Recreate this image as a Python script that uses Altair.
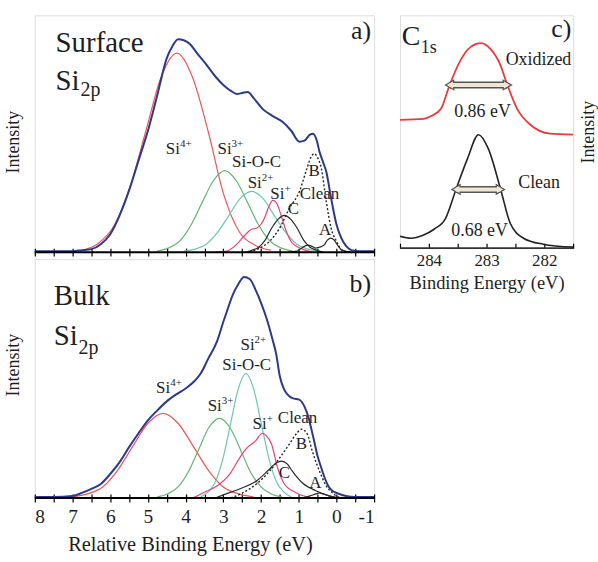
import altair as alt
import pandas as pd

FONT = "Liberation Serif"
INK = "#1e1e1e"

# ---------------- Panel a : Surface Si2p (E in eV, intensity arb.) ----------------
a_env_E = [8.0, 7.5, 7.0, 6.75, 6.5, 6.25, 6.0, 5.75, 5.5, 5.25, 5.0, 4.75, 4.5, 4.35, 4.2, 4.05,
           3.88, 3.7, 3.44, 3.2, 3.0, 2.8, 2.64, 2.5, 2.35, 2.2, 1.96, 1.7, 1.43, 1.2, 0.98, 0.85,
           0.7, 0.62, 0.52, 0.45, 0.35, 0.27, 0.14, 0.0, -0.13, -0.26, -0.4, -0.6, -1.0]
a_env_I = [1, 1, 1, 2, 3, 8, 18, 37, 62, 92, 122, 158, 195, 207, 214, 213,
           209, 200, 188, 176, 168, 162, 159, 160, 161, 155, 144, 137, 131, 122, 111, 112,
           118, 119, 112, 101, 90, 81, 54, 28, 14, 6, 2, 1, 1]

a_si4_E = [6.72, 6.31, 5.89, 5.48, 5.06, 4.65, 4.23, 3.82, 3.40, 2.99, 2.57, 2.16, 1.74]
a_si4_I = [2, 9, 27, 65, 121, 176, 200, 176, 121, 58, 20, 7, 2]
a_si3_E = [4.76, 4.46, 4.16, 3.86, 3.56, 3.26, 2.96, 2.66, 2.36, 2.06, 1.76, 1.46, 1.16]
a_si3_I = [1, 4, 11, 27, 50, 72, 82, 72, 50, 27, 11, 4, 1]
a_sioc_E = [4.05, 3.75, 3.45, 3.15, 2.85, 2.55, 2.25, 1.95, 1.65, 1.35, 1.05, 0.75, 0.45]
a_sioc_I = [1, 3, 8, 20, 37, 54, 61, 54, 37, 20, 8, 3, 1]
a_si1_E = [3.2, 2.91, 2.64, 2.38, 2.25, 2.12, 2.0, 1.9, 1.8, 1.69, 1.6, 1.51, 1.42, 1.33, 1.17, 0.9, 0.64]
a_si1_I = [0, 1, 8, 19, 23, 24, 28, 35, 45, 52, 50, 42, 31, 21, 9, 3, 0]
a_c_E = [2.40, 2.23, 2.06, 1.89, 1.72, 1.55, 1.38, 1.21, 1.04, 0.87, 0.70, 0.53, 0.36]
a_c_I = [0, 2, 5, 12, 24, 33, 37, 33, 24, 12, 5, 2, 0]
a_a_E = [1.3, 1.05, 0.93, 0.84, 0.75, 0.66, 0.55, 0.45, 0.33, 0.24, 0.15, 0.06, -0.03, -0.15, -0.4]
a_a_I = [0, 1, 4, 6, 7, 6, 4, 5, 7, 12, 14, 12, 7, 2, 0]
a_b_E = [2.3, 2.04, 1.77, 1.51, 1.25, 0.98, 0.80, 0.68, 0.59, 0.50, 0.40, 0.27, 0.14, 0.0, -0.15, -0.35]
a_b_I = [0, 4, 11, 24, 44, 61, 82, 95, 99, 95, 84, 51, 24, 11, 2, 0]

a_si_lbl_E = [4.15, 2.78, 1.98, 1.38]
a_si_lbl_I = [104, 104, 69, 58]
a_si_sup = ["4+", "3+", "2+", "+"]
a_txt = ["Si-O-C", "Clean", "B", "C", "A"]
a_txt_E = [2.12, 0.45, 0.59, 1.14, 0.30]
a_txt_I = [91, 58, 82, 43, 22]

# ---------------- Panel b : Bulk Si2p ----------------
b_env_E = [8.0, 7.5, 7.0, 6.75, 6.5, 6.25, 6.0, 5.75, 5.5, 5.25, 5.0, 4.75, 4.5, 4.25, 4.0, 3.75,
           3.6, 3.4, 3.17, 3.0, 2.9, 2.75, 2.6, 2.45, 2.3, 2.12, 2.0, 1.85, 1.7, 1.6, 1.5, 1.4,
           1.3, 1.15, 1.0, 0.85, 0.75, 0.67, 0.59, 0.5, 0.4, 0.3, 0.2, 0.1, 0.0, -0.25, -0.5, -1.0]
b_env_I = [1, 1, 2, 5, 9, 14, 24, 36, 51, 65, 78, 88, 97, 104, 110, 118,
           125, 140, 157, 177, 188, 204, 215, 222, 220, 207, 196, 180, 160, 145, 122, 110,
           104, 100, 99, 92, 82, 70, 57, 42, 30, 19, 11, 7, 5, 2, 1, 1]

b_si4_E = [7.0, 6.6, 6.2, 5.8, 5.4, 5.0, 4.6, 4.2, 3.8, 3.4, 3.0, 2.6, 2.2]
b_si4_I = [1, 4, 11, 28, 52, 75, 85, 75, 52, 28, 11, 4, 1]
b_si3_E = [4.75, 4.48, 4.20, 3.93, 3.65, 3.38, 3.10, 2.83, 2.55, 2.28, 2.00, 1.73, 1.45]
b_si3_I = [1, 4, 11, 26, 49, 71, 80, 71, 49, 26, 11, 4, 1]
b_sioc_E = [3.60, 3.40, 3.20, 3.00, 2.80, 2.60, 2.40, 2.20, 2.00, 1.80, 1.60, 1.40, 1.20]
b_sioc_I = [1, 6, 17, 41, 76, 110, 125, 110, 76, 41, 17, 6, 1]
b_si1_E = [3.8, 3.54, 3.17, 2.83, 2.57, 2.38, 2.15, 1.96, 1.85, 1.72, 1.56, 1.38, 1.06, 0.64]
b_si1_I = [0, 5, 12, 24, 40, 50, 57, 65, 62, 54, 30, 14, 5, 0]
b_c_E = [3.2, 3.0, 2.57, 2.12, 1.8, 1.6, 1.46, 1.3, 1.17, 0.9, 0.53, 0.19, -0.1]
b_c_I = [0, 3, 9, 17, 28, 35, 37, 34, 27, 15, 7, 2, 0]
b_a_E = [0.9, 0.7, 0.55, 0.45, 0.35, 0.2, 0.0]
b_a_I = [0, 2, 4, 5, 4, 2, 0]
b_b_E = [2.8, 2.49, 2.12, 1.77, 1.51, 1.25, 1.05, 0.93, 0.77, 0.64, 0.45, 0.27, 0.1, -0.05, -0.3]
b_b_I = [0, 5, 14, 27, 40, 54, 65, 69, 64, 47, 27, 12, 5, 1, 0]

b_si_lbl_E = [4.41, 3.04, 2.17, 1.85]
b_si_lbl_I = [110, 92, 154, 74]
b_si_sup = ["4+", "3+", "2+", "+"]
b_txt = ["Si-O-C", "Clean", "B", "C", "A"]
b_txt_E = [2.38, 1.03, 0.93, 1.38, 0.56]
b_txt_I = [134, 80, 54, 25, 15]

# ---------------- Panel c : C1s ----------------
c_ox_E = [284.5, 284.09, 283.95, 283.79, 283.64, 283.45, 283.28, 283.1, 282.93, 282.76, 282.64,
          282.47, 282.24, 281.9, 281.5]
c_ox_I = [129, 130, 133, 140, 164, 189, 202, 206, 200, 184, 164, 140, 124, 115, 114]
c_cl_E = [284.5, 284.31, 284.1, 283.91, 283.71, 283.53, 283.33, 283.14, 282.97, 282.76, 282.59,
          282.36, 282.02, 281.5]
c_cl_I = [12, 10, 13, 19, 30, 59, 90, 114, 100, 60, 25, 10, 4, 1]
c_fwhm_E1 = [283.64, 283.53]
c_fwhm_E2 = [282.64, 282.76]
c_fwhm_I = [164, 59]
c_txt = ["Oxidized", "0.86 eV", "Clean", "0.68 eV"]
c_txt_E = [282.10, 283.07, 282.09, 283.12]
c_txt_I = [189, 137, 65, 17]

SI_TICKS = [8, 7.5, 7, 6.5, 6, 5.5, 5, 4.5, 4, 3.5, 3, 2.5, 2, 1.5, 1, 0.5, 0, -0.5, -1]
C_TICKS = [284.5, 284, 283.5, 283, 282.5, 282, 281.5]

COMP_NAMES = ["Si4+", "Si3+", "SiOC", "Si+", "C", "A"]
COMP_COLORS = ["#ec5558", "#63b36e", "#6cc7ad", "#e8407a", "#2a2a2a", "#2a2a2a"]

INT_LABEL = "datum.value % 1 == 0 ? '' + datum.value : ''"


def long(curves):
    rows = []
    for name, (E, I) in curves.items():
        for k, (e, v) in enumerate(zip(E, I)):
            rows.append({"curve": name, "E": e, "I": v, "k": k})
    return pd.DataFrame(rows)


def si_panel(env, comps, dotted, si_lbl, plain, heads, height, bottom, title_y):
    xaxis = alt.Axis(values=SI_TICKS, domain=False, grid=False, tickSize=8, offset=-4,
                     tickColor="black", tickWidth=1.2,
                     labels=bottom, labelExpr=INT_LABEL, labelOverlap=False,
                     labelFont=FONT, labelFontSize=19.5, labelColor=INK, labelPadding=6,
                     title="Relative Binding Energy (eV)" if bottom else None,
                     titleFont=FONT, titleFontSize=20.5, titleFontWeight="normal", titleColor=INK,
                     titlePadding=8, titleX=156)
    yaxis = alt.Axis(labels=False, ticks=False, domain=False, grid=False, title="Intensity",
                     titleFont=FONT, titleFontSize=18, titleFontWeight="normal", titleColor=INK,
                     titlePadding=12, titleY=title_y)
    X = alt.X("E:Q", scale=alt.Scale(domain=[8, -1], nice=False, zero=False), axis=xaxis)
    Y = alt.Y("I:Q", scale=alt.Scale(domain=[0, height], nice=False, zero=False), axis=yaxis)

    base = alt.Chart(pd.DataFrame({"I": [0]})).mark_rule(color="black", strokeWidth=2).encode(y=Y)
    comp = alt.Chart(long(comps)).mark_line(strokeWidth=1.2, interpolate="monotone").encode(
        x=X, y=Y, detail="curve:N", order="k:Q",
        color=alt.Color("curve:N", scale=alt.Scale(domain=COMP_NAMES, range=COMP_COLORS), legend=None))
    dot = alt.Chart(long({"B": dotted})).mark_line(
        strokeWidth=1.4, strokeDash=[2, 2], color="#222", interpolate="monotone").encode(x=X, y=Y, order="k:Q")
    envl = alt.Chart(long({"env": env})).mark_line(
        strokeWidth=2.0, color="#2b3a88", interpolate="monotone").encode(x=X, y=Y, order="k:Q")

    sdf = pd.DataFrame({"E": si_lbl[0], "I": si_lbl[1], "sup": si_lbl[2], "t": ["Si"] * len(si_lbl[0])})
    si_t = alt.Chart(sdf).mark_text(font=FONT, fontSize=17, align="right", baseline="middle",
                                    color=INK).encode(x=X, y=Y, text="t:N")
    sup_t = alt.Chart(sdf).mark_text(font=FONT, fontSize=11, align="left", baseline="middle",
                                     dy=-5, color=INK).encode(x=X, y=Y, text="sup:N")
    pdf = pd.DataFrame({"t": plain[0], "E": plain[1], "I": plain[2]})
    pl_t = alt.Chart(pdf).mark_text(font=FONT, fontSize=17, align="center", baseline="middle",
                                    color=INK).encode(x=X, y=Y, text="t:N")

    hdf = pd.DataFrame(heads)
    layers = [comp, dot, envl, base, si_t, sup_t, pl_t]
    for size, align in [(29, "left"), (20, "left"), (26, "right")]:
        sub = hdf[(hdf["size"] == size)]
        layers.append(alt.Chart(sub).mark_text(font=FONT, fontSize=size, align=align,
                                               baseline="alphabetic", color=INK).encode(x=X, y=Y, text="t:N"))
    return alt.layer(*layers).properties(width=341, height=height)


panel_a = si_panel(
    (a_env_E, a_env_I),
    {"Si4+": (a_si4_E, a_si4_I), "Si3+": (a_si3_E, a_si3_I), "SiOC": (a_sioc_E, a_sioc_I),
     "Si+": (a_si1_E, a_si1_I), "C": (a_c_E, a_c_I), "A": (a_a_E, a_a_I)},
    (a_b_E, a_b_I),
    (a_si_lbl_E, a_si_lbl_I, a_si_sup),
    (a_txt, a_txt_E, a_txt_I),
    {"t": ["Surface", "Si", "2p", "a)"], "E": [7.45, 7.45, 6.79, -0.92],
     "I": [201, 163, 157, 214], "size": [29, 29, 20, 26]},
    238, False, 127)

panel_b = si_panel(
    (b_env_E, b_env_I),
    {"Si4+": (b_si4_E, b_si4_I), "Si3+": (b_si3_E, b_si3_I), "SiOC": (b_sioc_E, b_sioc_I),
     "Si+": (b_si1_E, b_si1_I), "C": (b_c_E, b_c_I), "A": (b_a_E, b_a_I)},
    (b_b_E, b_b_I),
    (b_si_lbl_E, b_si_lbl_I, b_si_sup),
    (b_txt, b_txt_E, b_txt_I),
    {"t": ["Bulk", "Si", "2p", "b)"], "E": [7.5, 7.5, 6.84, -0.92],
     "I": [194, 154, 145, 207], "size": [29, 29, 20, 26]},
    240, True, 106)

# ---- panel c ----
cx_axis = alt.Axis(values=C_TICKS, domain=False, grid=False, tickSize=5, offset=-5,
                   tickColor="black", tickWidth=1.2,
                   labelExpr=INT_LABEL, labelOverlap=False,
                   labelFont=FONT, labelFontSize=17, labelColor=INK, labelPadding=4,
                   title="Binding Energy (eV)", titleFont=FONT, titleFontSize=18.5,
                   titleFontWeight="normal", titleColor=INK, titlePadding=6)
cy_axis = alt.Axis(orient="right", labels=False, ticks=False, domain=False, grid=False,
                   title="Intensity", titleFont=FONT, titleFontSize=18, titleFontWeight="normal",
                   titleColor=INK, titlePadding=6, titleAngle=270, titleBaseline="top")
CX = alt.X("E:Q", scale=alt.Scale(domain=[284.5, 281.5], nice=False, zero=False), axis=cx_axis)
CY = alt.Y("I:Q", scale=alt.Scale(domain=[0, 234], nice=False, zero=False), axis=cy_axis)

c_base = alt.Chart(pd.DataFrame({"I": [0]})).mark_rule(color="#333", strokeWidth=1.6).encode(y=CY)
c_ox = alt.Chart(long({"ox": (c_ox_E, c_ox_I)})).mark_line(
    color="#ea3a3a", strokeWidth=1.8, interpolate="monotone").encode(x=CX, y=CY, order="k:Q")
c_cl = alt.Chart(long({"cl": (c_cl_E, c_cl_I)})).mark_line(
    color="#222", strokeWidth=1.6, interpolate="monotone").encode(x=CX, y=CY, order="k:Q")
adf = pd.DataFrame({"E": c_fwhm_E1, "E2": c_fwhm_E2, "I": c_fwhm_I})
arr_out = alt.Chart(adf).mark_rule(color="#555", strokeWidth=7).encode(x=CX, x2="E2:Q", y=CY)
arr_in = alt.Chart(adf).mark_rule(color="#efe7d2", strokeWidth=4).encode(x=CX, x2="E2:Q", y=CY)
head_l = alt.Chart(adf).mark_point(shape="triangle-left", size=90, filled=True, fill="#efe7d2",
                                   stroke="#555", strokeWidth=1.3, opacity=1).encode(x=CX, y=CY)
head_r = alt.Chart(adf).mark_point(shape="triangle-right", size=90, filled=True, fill="#efe7d2",
                                   stroke="#555", strokeWidth=1.3, opacity=1).encode(
    x=alt.X("E2:Q", scale=alt.Scale(domain=[284.5, 281.5], nice=False, zero=False), axis=cx_axis), y=CY)
ctdf = pd.DataFrame({"t": c_txt, "E": c_txt_E, "I": c_txt_I})
c_t = alt.Chart(ctdf).mark_text(font=FONT, fontSize=18, align="center", baseline="middle",
                                color=INK).encode(x=CX, y=CY, text="t:N")
chead = pd.DataFrame({"t": ["C", "1s", "c)"], "E": [284.47, 284.14, 281.53], "I": [204, 196, 212]})
c_h1 = alt.Chart(chead.iloc[[0]]).mark_text(font=FONT, fontSize=28, align="left", baseline="alphabetic",
                                            color=INK).encode(x=CX, y=CY, text="t:N")
c_h2 = alt.Chart(chead.iloc[[1]]).mark_text(font=FONT, fontSize=18, align="left", baseline="alphabetic",
                                            color=INK).encode(x=CX, y=CY, text="t:N")
c_h3 = alt.Chart(chead.iloc[[2]]).mark_text(font=FONT, fontSize=26, align="right", baseline="alphabetic",
                                            color=INK).encode(x=CX, y=CY, text="t:N")
panel_c = alt.layer(c_ox, c_cl, arr_out, head_l, head_r, arr_in, c_base, c_t, c_h1, c_h2, c_h3).properties(
    width=174, height=234)

left = alt.vconcat(panel_a, panel_b, spacing=0)
chart = alt.hconcat(left, panel_c, spacing=16).properties(
    padding={"left": 4, "top": 13, "right": 0, "bottom": 0}
).configure_view(stroke="#808080", strokeWidth=1.2).configure(background="white")

chart.save("out.html", embed_options={"renderer": "svg", "actions": False})
